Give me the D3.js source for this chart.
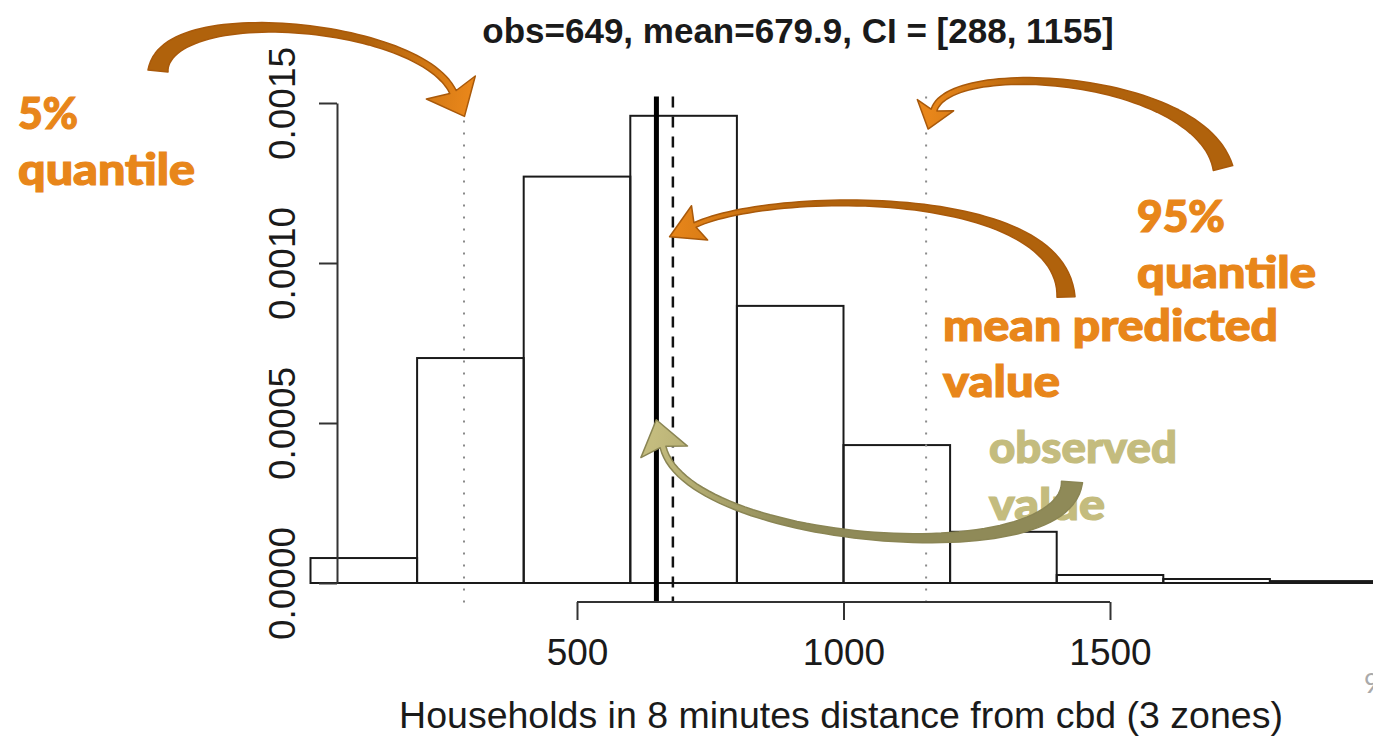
<!DOCTYPE html>
<html>
<head>
<meta charset="utf-8">
<script src="https://cdn.jsdelivr.net/npm/d3@7"></script>
<style>
  body { margin: 0; background: #fff; }
  svg { display: block; }
  .rtext { font-family: "Liberation Sans", Arial, sans-serif; fill: #1a1a1a; }
  .note { font-family: Lato, "Open Sans", sans-serif; font-weight: 900; }
</style>
</head>
<body>
<div id="chart"></div>
<script>
// histogram of simulated predictions (density per bin)
var binEdges = [0, 200, 400, 600, 800, 1000, 1200, 1400, 1600, 1800, 2000];
var density = [0.000078, 0.000703, 0.00127, 0.00146, 0.000866, 0.000431, 0.00016, 0.000025, 0.0000125, 0.000006];
var obsValue = 649, meanValue = 679.9, ciLow = 288, ciHigh = 1155, nObs = 649;
var xTicks = [500, 1000, 1500];
var yTicks = [0, 0.0005, 0.0010, 0.0015];

var chart = {};
chart.w = 1373;
chart.h = 739;

chart.svg = d3.select("#chart").append("svg")
  .attr("width", chart.w)
  .attr("height", chart.h);

chart.x = d3.scaleLinear().domain([0, 2000]).range([310.5, 1376.5]);
chart.y = d3.scaleLinear().domain([0, 0.0015]).range([583, 103]);
// R's plot region (yaxs="r" adds 4%)
chart.top = chart.y(0.00152);
chart.bottom = 602;

var bins = density.map(function(d, i) { return { x0: binEdges[i], x1: binEdges[i + 1], v: d }; });

var g = chart.svg.append("g");

g.selectAll("rect.bar")
  .data(bins)
  .enter().append("rect")
    .attr("class", "bar")
    .attr("x", function(d) { return chart.x(d.x0); })
    .attr("y", function(d) { return chart.y(d.v); })
    .attr("width", function(d) { return chart.x(d.x1) - chart.x(d.x0); })
    .attr("height", function(d) { return chart.y(0) - chart.y(d.v); })
    .style("fill", "none")
    .style("stroke", "#1a1a1a")
    .style("stroke-width", 2);

// vertical reference lines
var vlines = [
  { v: ciLow, w: 2, dash: "2,10", c: "#8a8a8a" },
  { v: ciHigh, w: 2, dash: "2,10", c: "#8a8a8a" },
  { v: meanValue, w: 2.5, dash: "11,9", c: "#111" },
  { v: obsValue, w: 5, dash: null, c: "#000" }
];
g.selectAll("line.vl")
  .data(vlines)
  .enter().append("line")
    .attr("class", "vl")
    .attr("x1", function(d) { return chart.x(d.v); })
    .attr("x2", function(d) { return chart.x(d.v); })
    .attr("y1", chart.top)
    .attr("y2", chart.bottom + 1)
    .style("stroke", function(d) { return d.c; })
    .style("stroke-width", function(d) { return d.w; })
    .style("stroke-dasharray", function(d) { return d.dash; });

// y axis
var yAxis = g.append("g")
  .attr("transform", "translate(337,0)")
  .call(d3.axisLeft(chart.y).tickValues(yTicks).tickSize(18).tickSizeOuter(0).tickFormat(d3.format(".4f")));
yAxis.select(".domain").style("stroke", "#333").style("stroke-width", 2);
yAxis.selectAll(".tick line").style("stroke", "#333").style("stroke-width", 2);
yAxis.selectAll(".tick text")
  .attr("class", "rtext")
  .attr("transform", "rotate(-90)")
  .attr("x", 0).attr("y", -42).attr("dy", null)
  .style("text-anchor", "middle")
  .style("font-size", "37px");

// x axis (R style: line only from first to last tick)
var xAxis = g.append("g")
  .attr("transform", "translate(0," + chart.bottom + ")")
  .call(d3.axisBottom(chart.x).tickValues(xTicks).tickSize(18).tickSizeOuter(0).tickFormat(d3.format("d")));
xAxis.select(".domain").remove();
xAxis.append("line")
  .attr("x1", chart.x(xTicks[0])).attr("x2", chart.x(xTicks[xTicks.length - 1]))
  .style("stroke", "#333").style("stroke-width", 2);
xAxis.selectAll(".tick line").style("stroke", "#333").style("stroke-width", 2);
xAxis.selectAll(".tick text")
  .attr("class", "rtext")
  .attr("y", 63).attr("dy", null)
  .style("font-size", "37px");

chart.svg.append("text")
  .attr("class", "rtext")
  .attr("x", 798).attr("y", 43)
  .style("text-anchor", "middle")
  .style("font-size", "35px")
  .style("font-weight", "bold")
  .text("obs=" + nObs + ", mean=" + meanValue.toFixed(1) + ", CI = [" + ciLow + ", " + ciHigh + "]");

chart.svg.append("text")
  .attr("class", "rtext")
  .attr("x", 841).attr("y", 728)
  .style("text-anchor", "middle")
  .style("font-size", "37.5px")
  .text("Households in 8 minutes distance from cbd (3 zones)");

// slide number, cut by the right edge as in the source
chart.svg.append("text")
  .attr("x", 1364).attr("y", 693)
  .style("font-family", "Lato, sans-serif")
  .style("font-size", "26px")
  .style("fill", "#aaa")
  .text("9");

// annotation labels
var orange = "#E8861A", khaki = "#C4BC7E";
var notes = [
  { t: "5%", x: 18, y: 129, len: 60, c: orange },
  { t: "quantile", x: 18, y: 185, len: 177, c: orange },
  { t: "95%", x: 1137, y: 232, len: 88, c: orange },
  { t: "quantile", x: 1137, y: 288, len: 179, c: orange },
  { t: "mean predicted", x: 943, y: 341, len: 335, c: orange },
  { t: "value", x: 943, y: 397, len: 117, c: orange },
  { t: "observed", x: 989, y: 463, len: 188, c: khaki },
  { t: "value", x: 989, y: 520, len: 116, c: khaki }
];
chart.svg.selectAll("text.note")
  .data(notes)
  .enter().append("text")
    .attr("class", "note")
    .attr("x", function(d) { return d.x; })
    .attr("y", function(d) { return d.y; })
    .attr("textLength", function(d) { return d.len; })
    .attr("lengthAdjust", "spacingAndGlyphs")
    .style("font-size", "43px")
    .style("fill", function(d) { return d.c; })
    .style("stroke", function(d) { return d.c; })
    .style("stroke-width", 1.2)
    .text(function(d) { return d.t; });

// curved block arrows
function bez(p, t) {
  var u = 1 - t;
  return [
    u*u*u*p[0][0] + 3*u*u*t*p[1][0] + 3*u*t*t*p[2][0] + t*t*t*p[3][0],
    u*u*u*p[0][1] + 3*u*u*t*p[1][1] + 3*u*t*t*p[2][1] + t*t*t*p[3][1]
  ];
}
function bezD(p, t) {
  var u = 1 - t;
  return [
    3*u*u*(p[1][0]-p[0][0]) + 6*u*t*(p[2][0]-p[1][0]) + 3*t*t*(p[3][0]-p[2][0]),
    3*u*u*(p[1][1]-p[0][1]) + 6*u*t*(p[2][1]-p[1][1]) + 3*t*t*(p[3][1]-p[2][1])
  ];
}
function arrowShape(a) {
  var left = [], right = [], n = 60;
  for (var i = 0; i <= n; i++) {
    var t = i / n, b = bez(a.p, t), d = bezD(a.p, t);
    var l = Math.hypot(d[0], d[1]), nx = -d[1] / l, ny = d[0] / l;
    var k = (1 - t) * (1 - t) * (1 - t);
    var w = (a.w1 + (a.w0 - a.w1) * k) / 2;
    left.push([b[0] + nx * w, b[1] + ny * w]);
    right.push([b[0] - nx * w, b[1] - ny * w]);
  }
  var e = a.p[3], dv = bezD(a.p, 1), L = Math.hypot(dv[0], dv[1]);
  var dx = dv[0] / L, dy = dv[1] / L, nx = -dy, ny = dx;
  var tip = [e[0] + dx * a.hl, e[1] + dy * a.hl];
  var pts = left.concat([
    [e[0] + nx * a.hw - dx * 5, e[1] + ny * a.hw - dy * 5],
    tip,
    [e[0] - nx * a.hw - dx * 5, e[1] - ny * a.hw - dy * 5]
  ]).concat(right.reverse());
  return { d: "M" + pts.map(function(q) { return q[0].toFixed(1) + "," + q[1].toFixed(1); }).join("L") + "Z", tip: tip };
}

var arrows = [
  { p: [[158, 71], [165, 0], [420, 22], [453, 92]], w0: 20, w1: 7, hl: 27, hw: 27, c0: "#B0620C", c1: orange, s: "#A9590A" },
  { p: [[1223, 168], [1200, 75], [950, 58], [934, 110]], w0: 20, w1: 6, hl: 20, hw: 19, c0: "#B0620C", c1: orange, s: "#A9590A" },
  { p: [[1066, 297], [1062, 185], [770, 190], [695, 225]], w0: 18, w1: 5, hl: 28, hw: 19, c0: "#B0620C", c1: orange, s: "#A9590A" },
  { p: [[1072, 482], [1065, 575], [687, 545], [663, 447]], w0: 21, w1: 6, hl: 28, hw: 24, c0: "#8F8A58", c1: khaki, s: "#8A8554" }
];

var defs = chart.svg.append("defs");
arrows.forEach(function(a, i) {
  var shp = arrowShape(a);
  var grad = defs.append("linearGradient")
    .attr("id", "ag" + i)
    .attr("gradientUnits", "userSpaceOnUse")
    .attr("x1", a.p[0][0]).attr("y1", a.p[0][1])
    .attr("x2", shp.tip[0]).attr("y2", shp.tip[1]);
  grad.append("stop").attr("offset", "0%").attr("stop-color", a.c0);
  grad.append("stop").attr("offset", "65%").attr("stop-color", a.c0);
  grad.append("stop").attr("offset", "100%").attr("stop-color", a.c1);
  chart.svg.append("path")
    .attr("d", shp.d)
    .style("fill", "url(#ag" + i + ")")
    .style("stroke", a.s)
    .style("stroke-width", 1.5)
    .style("stroke-linejoin", "round");
});
</script>
</body>
</html>
